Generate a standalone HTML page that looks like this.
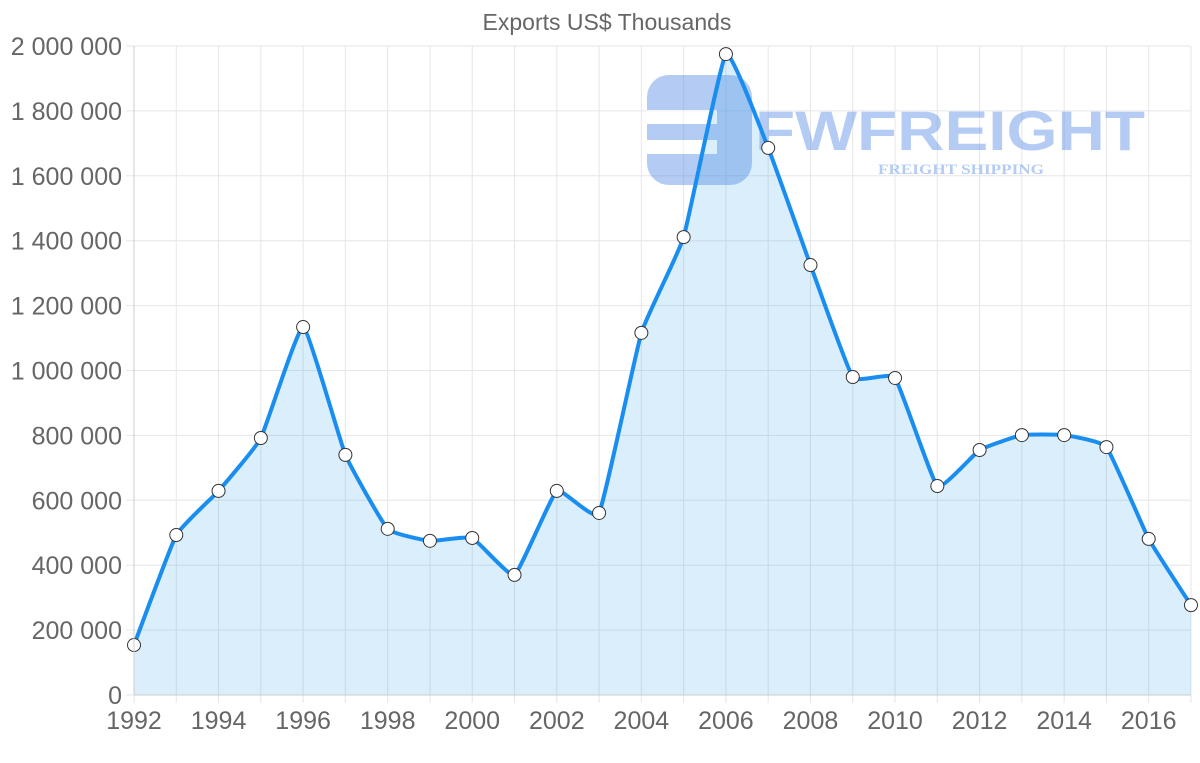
<!DOCTYPE html>
<html><head><meta charset="utf-8"><style>
html,body{margin:0;padding:0;background:#fff;}
svg{display:block;font-family:"Liberation Sans",sans-serif;}
</style></head><body>
<svg width="1200" height="763" viewBox="0 0 1200 763">
<text x="607" y="30" text-anchor="middle" font-size="23" fill="#666">Exports US$ Thousands</text>
<g stroke="#e6e6e6" stroke-width="1" id="grid"></g>
<g id="ylab" font-size="25" fill="#666" text-anchor="end"></g>
<g id="xlab" font-size="25" fill="#666" text-anchor="middle"></g>
<g opacity="0.45">
<rect x="647" y="75" width="105" height="110" rx="22" fill="#5a8fe6"/>
<rect x="647" y="110" width="70" height="14" fill="#fff"/>
<rect x="647" y="140" width="70" height="14" fill="#fff"/>
<text x="755" y="150" font-size="56" font-weight="bold" fill="#5a8fe6" textLength="390" lengthAdjust="spacingAndGlyphs">FWFREIGHT</text>
<text x="878" y="174" font-size="15" font-weight="bold" fill="#5a8fe6" font-family="Liberation Serif,serif" textLength="166" lengthAdjust="spacingAndGlyphs">FREIGHT SHIPPING</text>
</g>
<path id="area" fill="rgba(54,162,235,0.18)" stroke="none"/>
<path id="line" fill="none" stroke="#1a8ef0" stroke-width="4"/>
<g id="pts"></g>
<line x1="134" y1="46" x2="134" y2="695" stroke="#ccc"/>
<line x1="134" y1="695" x2="1191" y2="695" stroke="#ccc"/>
</svg>
<script>
const d=[154,493,629,792,1134,740,512,475,484,370,629,561,1116,1411,1975,1686,1325,980,977,644,755,801,801,764,481,277];
const X=i=>134+i*(1191-134)/25, Y=v=>695-v/2000*649;
const ns="http://www.w3.org/2000/svg";
const g=document.getElementById('grid'),yl=document.getElementById('ylab'),xl=document.getElementById('xlab');
function el(t,a,p,txt){const e=document.createElementNS(ns,t);for(const k in a)e.setAttribute(k,a[k]);if(txt)e.textContent=txt;p.appendChild(e);return e;}
const labs=["0","200 000","400 000","600 000","800 000","1 000 000","1 200 000","1 400 000","1 600 000","1 800 000","2 000 000"];
for(let i=0;i<=10;i++){const y=Y(i*200);el('line',{x1:126,x2:1191,y1:y,y2:y},g);el('text',{x:122,y:y+9},yl,labs[i]);}
for(let i=0;i<=25;i++){const x=X(i);el('line',{x1:x,x2:x,y1:46,y2:703},g);if(i%2==0)el('text',{x:x,y:729},xl,String(1992+i));}
const P=d.map((v,i)=>[X(i),Y(v)]);
let s=`M${P[0][0]},${P[0][1]}`;const t=0.06;
for(let i=0;i<P.length-1;i++){const p0=P[i-1]||P[i],p1=P[i],p2=P[i+1],p3=P[i+2]||p2;
s+=` C${p1[0]+(p2[0]-p0[0])*t},${p1[1]+(p2[1]-p0[1])*t} ${p2[0]-(p3[0]-p1[0])*t},${p2[1]-(p3[1]-p1[1])*t} ${p2[0]},${p2[1]}`;}
document.getElementById('line').setAttribute('d',s);
document.getElementById('area').setAttribute('d',s+` L${P[25][0]},695 L${P[0][0]},695 Z`);
const pts=document.getElementById('pts');
P.forEach(p=>el('circle',{cx:p[0],cy:p[1],r:6.5,fill:'#fff',stroke:'#333','stroke-width':1},pts));
</script>
</body></html>
